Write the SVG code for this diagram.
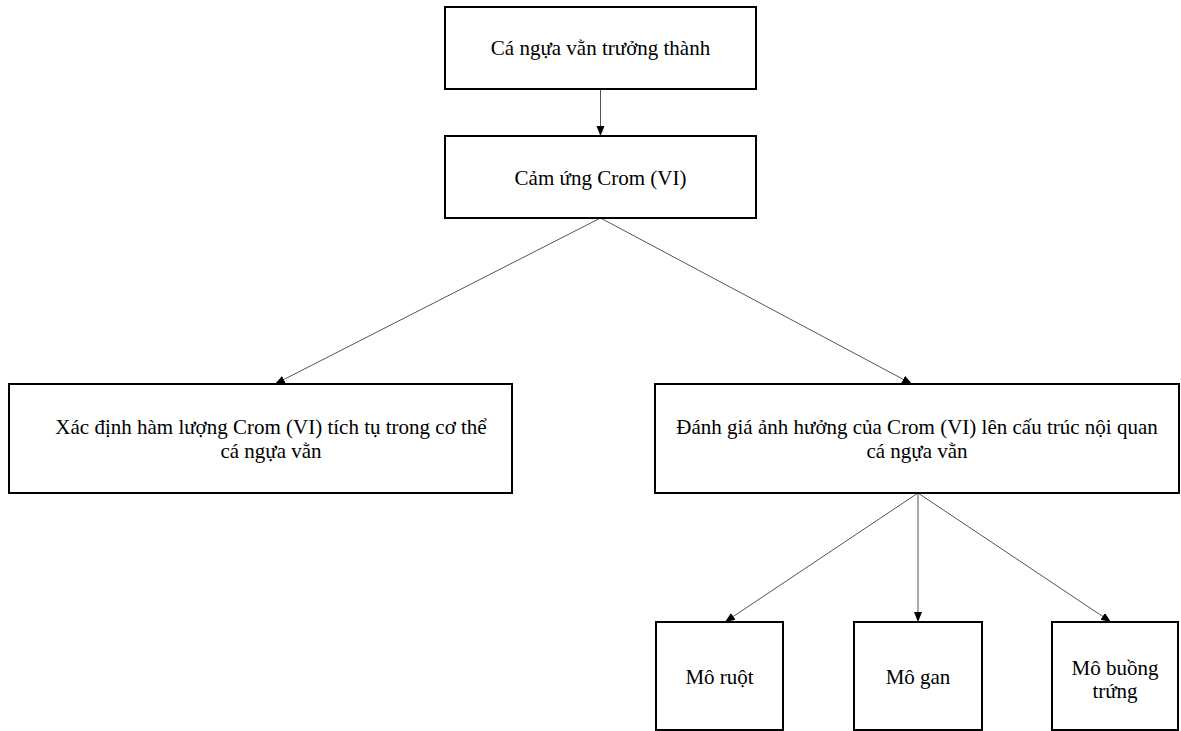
<svg xmlns="http://www.w3.org/2000/svg" width="1181" height="731" viewBox="0 0 1181 731">
<defs>
<style>
.box{fill:#fff;stroke:#000;stroke-width:2}
.t{font-family:"Liberation Serif","Times New Roman",serif;font-size:21px;fill:#000;text-anchor:middle}
.c{stroke:#555;stroke-width:1;fill:none;marker-end:url(#ah)}
</style>
<marker id="ah" viewBox="0 0 10 10" refX="10" refY="5" markerWidth="10" markerHeight="10" markerUnits="userSpaceOnUse" orient="auto">
<path d="M0,1 L10,5 L0,9 Z" fill="#000"/>
</marker>
</defs>
<rect width="1181" height="731" fill="#fff"/>
<g id="connectors">
<line class="c" x1="600.5" y1="89" x2="600.5" y2="136"/>
<line class="c" x1="600.5" y1="218" x2="275" y2="384"/>
<line class="c" x1="600.5" y1="218" x2="912" y2="384"/>
<line class="c" x1="918" y1="493" x2="725" y2="622"/>
<line class="c" x1="918" y1="493" x2="918" y2="622"/>
<line class="c" x1="918" y1="493" x2="1111" y2="622"/>
</g>
<g id="n1"><rect class="box" x="445" y="7" width="311" height="82"/><text class="t" x="600.5" y="55">Cá ngựa vằn trưởng thành</text></g>
<g id="n2"><rect class="box" x="445" y="136" width="311" height="82"/><text class="t" x="600.5" y="185">Cảm ứng Crom (VI)</text></g>
<g id="n3"><rect class="box" x="9" y="384" width="503" height="109"/><text class="t" x="271" y="434">Xác định hàm lượng Crom (VI) tích tụ trong cơ thể</text><text class="t" x="271" y="458">cá ngựa vằn</text></g>
<g id="n4"><rect class="box" x="655" y="384" width="524" height="109"/><text class="t" x="917" y="434">Đánh giá ảnh hưởng của Crom (VI) lên cấu trúc nội quan</text><text class="t" x="917" y="458">cá ngựa vằn</text></g>
<g id="n5"><rect class="box" x="656" y="622" width="127" height="108"/><text class="t" x="719.5" y="684">Mô ruột</text></g>
<g id="n6"><rect class="box" x="854" y="622" width="128" height="108"/><text class="t" x="918" y="684">Mô gan</text></g>
<g id="n7"><rect class="box" x="1052" y="622" width="126" height="108"/><text class="t" x="1115" y="675">Mô buồng</text><text class="t" x="1115" y="698">trứng</text></g>
</svg>
